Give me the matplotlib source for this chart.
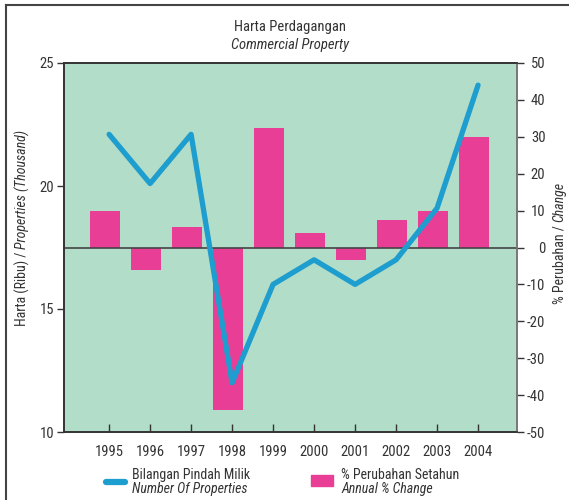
import matplotlib
matplotlib.use("Agg")
import matplotlib.pyplot as plt
from matplotlib import font_manager as fm
from matplotlib.lines import Line2D
from matplotlib.patches import Rectangle

years = [1995, 1996, 1997, 1998, 1999, 2000, 2001, 2002, 2003, 2004]
properties = [22.1, 20.1, 22.1, 12.0, 16.0, 17.0, 16.0, 17.0, 19.1, 24.1]
pct_change = [10, -6, 5.5, -44, 32.5, 4, -3.5, 7.5, 10, 30]
left_ticks = [10, 15, 20, 25]
right_ticks = [-50, -40, -30, -20, -10, 0, 10, 20, 30, 40, 50]

# pick a narrow sans font if one is installed
entries = fm.fontManager.ttflist
names = {e.name for e in entries}
FAMILY = None
STRETCH = 'normal'
for cand in ['Liberation Sans Narrow', 'Arial Narrow', 'Nimbus Sans Narrow',
             'Roboto Condensed', 'Open Sans Condensed', 'DejaVu Sans Condensed']:
    if cand in names:
        FAMILY = cand
        break
if FAMILY is None:
    if any(e.name == 'DejaVu Sans' and 'condensed' in str(e.stretch) for e in entries):
        FAMILY = 'DejaVu Sans'
        STRETCH = 'condensed'
NARROW = FAMILY is not None
if FAMILY is None:
    FAMILY = 'Liberation Sans'
plt.rcParams['font.family'] = [FAMILY, 'DejaVu Sans']
plt.rcParams['font.stretch'] = STRETCH
plt.rcParams['axes.unicode_minus'] = False

FS = 10.5 if NARROW else 9.5
LFS = 10 if NARROW else 9

LINE_C = '#1e9dcf'
BAR_C = '#e83e95'
BG = '#b2ddc9'
TXT = '#333333'

fig = plt.figure(figsize=(5.69, 5.0), dpi=100)
W, H = 569, 500
ax2 = fig.add_axes([64 / W, 1 - 432 / H, (517 - 64) / W, (432 - 63) / H])
ax = ax2.twinx()
ax.yaxis.tick_left()
ax2.yaxis.tick_right()
ax.set_zorder(ax2.get_zorder() + 1)
ax.patch.set_visible(False)
ax2.set_facecolor(BG)

ax2.bar([y - 0.1 for y in years], pct_change, width=0.72, color=BAR_C, zorder=2)
ax2.axhline(0, color='#444444', lw=1.2, zorder=3)
ax2.set_ylim(-50, 50)
ax2.set_yticks(right_ticks)
ax2.set_xlim(1993.9, 2004.95)

ax.plot(years, properties, color=LINE_C, lw=3.8, solid_capstyle='round',
        solid_joinstyle='round', zorder=5)
ax.set_ylim(10, 25)
ax.set_yticks(left_ticks)
ax.set_xlim(1993.9, 2004.95)
ax.set_xticks(years)
ax2.set_xticks(years)

for a in (ax, ax2):
    for s in a.spines.values():
        s.set_color('#333333')
        s.set_linewidth(1.2)
    a.spines['right'].set_color('#777777')

ax.tick_params(axis='y', direction='out', length=5, width=1,
               labelsize=FS, colors=TXT, left=True, right=False,
               labelleft=True, labelright=False, pad=2)
ax2.tick_params(axis='y', direction='out', length=5, width=1, labelsize=FS,
                colors=TXT, right=True, left=False, labelright=True,
                labelleft=False, pad=15.5)
for lab in ax2.get_yticklabels():
    lab.set_horizontalalignment('right')
ax2.tick_params(axis='x', direction='in', length=6, width=1, labelsize=FS,
                colors=TXT, pad=9)
ax.tick_params(axis='x', bottom=False, labelbottom=False)

# title
fig.text(290 / W, 1 - 27 / H, 'Harta Perdagangan', ha='center', va='center',
         fontsize=FS, color=TXT)
fig.text(290 / W, 1 - 45 / H, 'Commercial Property', ha='center', va='center',
         fontsize=FS, color=TXT, style='italic')

renderer = fig.canvas.get_renderer()


def vertical_label(x_px, ycenter_px, parts, fs):
    texts = []
    for s, st in parts:
        t = fig.text(x_px / W, 0, s, rotation=90, ha='center', va='bottom',
                     fontsize=fs, color=TXT, style=st)
        texts.append(t)
    lens = [t.get_window_extent(renderer).height for t in texts]
    total = sum(lens)
    y = (H - ycenter_px) - total / 2.0
    for t, L in zip(texts, lens):
        t.set_y(y / H)
        y += L


vertical_label(22, 228, [('Harta (Ribu) / ', 'normal'),
                         ('Properties (Thousand)', 'italic')], 10)
vertical_label(559, 243, [('% Perubahan / ', 'normal'),
                          ('Change', 'italic')], 10)

# legend
fig.add_artist(Line2D([106 / W, 125 / W], [1 - 482 / H, 1 - 482 / H],
                      color=LINE_C, lw=4.5, solid_capstyle='round',
                      transform=fig.transFigure))
fig.text(132 / W, 1 - 475 / H, 'Bilangan Pindah Milik', ha='left',
         va='center', fontsize=LFS, color=TXT)
fig.text(132 / W, 1 - 489 / H, 'Number Of Properties', ha='left',
         va='center', fontsize=LFS, color=TXT, style='italic')
fig.add_artist(Rectangle((311 / W, 1 - 486 / H), 22 / W, 11 / H,
                         color=BAR_C, transform=fig.transFigure))
fig.text(341 / W, 1 - 475 / H, '% Perubahan Setahun', ha='left',
         va='center', fontsize=LFS, color=TXT)
fig.text(341 / W, 1 - 489 / H, 'Annual % Change', ha='left',
         va='center', fontsize=LFS, color=TXT, style='italic')

# outer frame
fig.add_artist(Line2D([6 / W, 6 / W], [0, 1 - 5 / H], color='#444444', lw=1.5,
                      transform=fig.transFigure))
fig.add_artist(Line2D([6 / W, 1], [1 - 5 / H, 1 - 5 / H], color='#444444',
                      lw=1.5, transform=fig.transFigure))

fig.savefig('out.png', dpi=100)
